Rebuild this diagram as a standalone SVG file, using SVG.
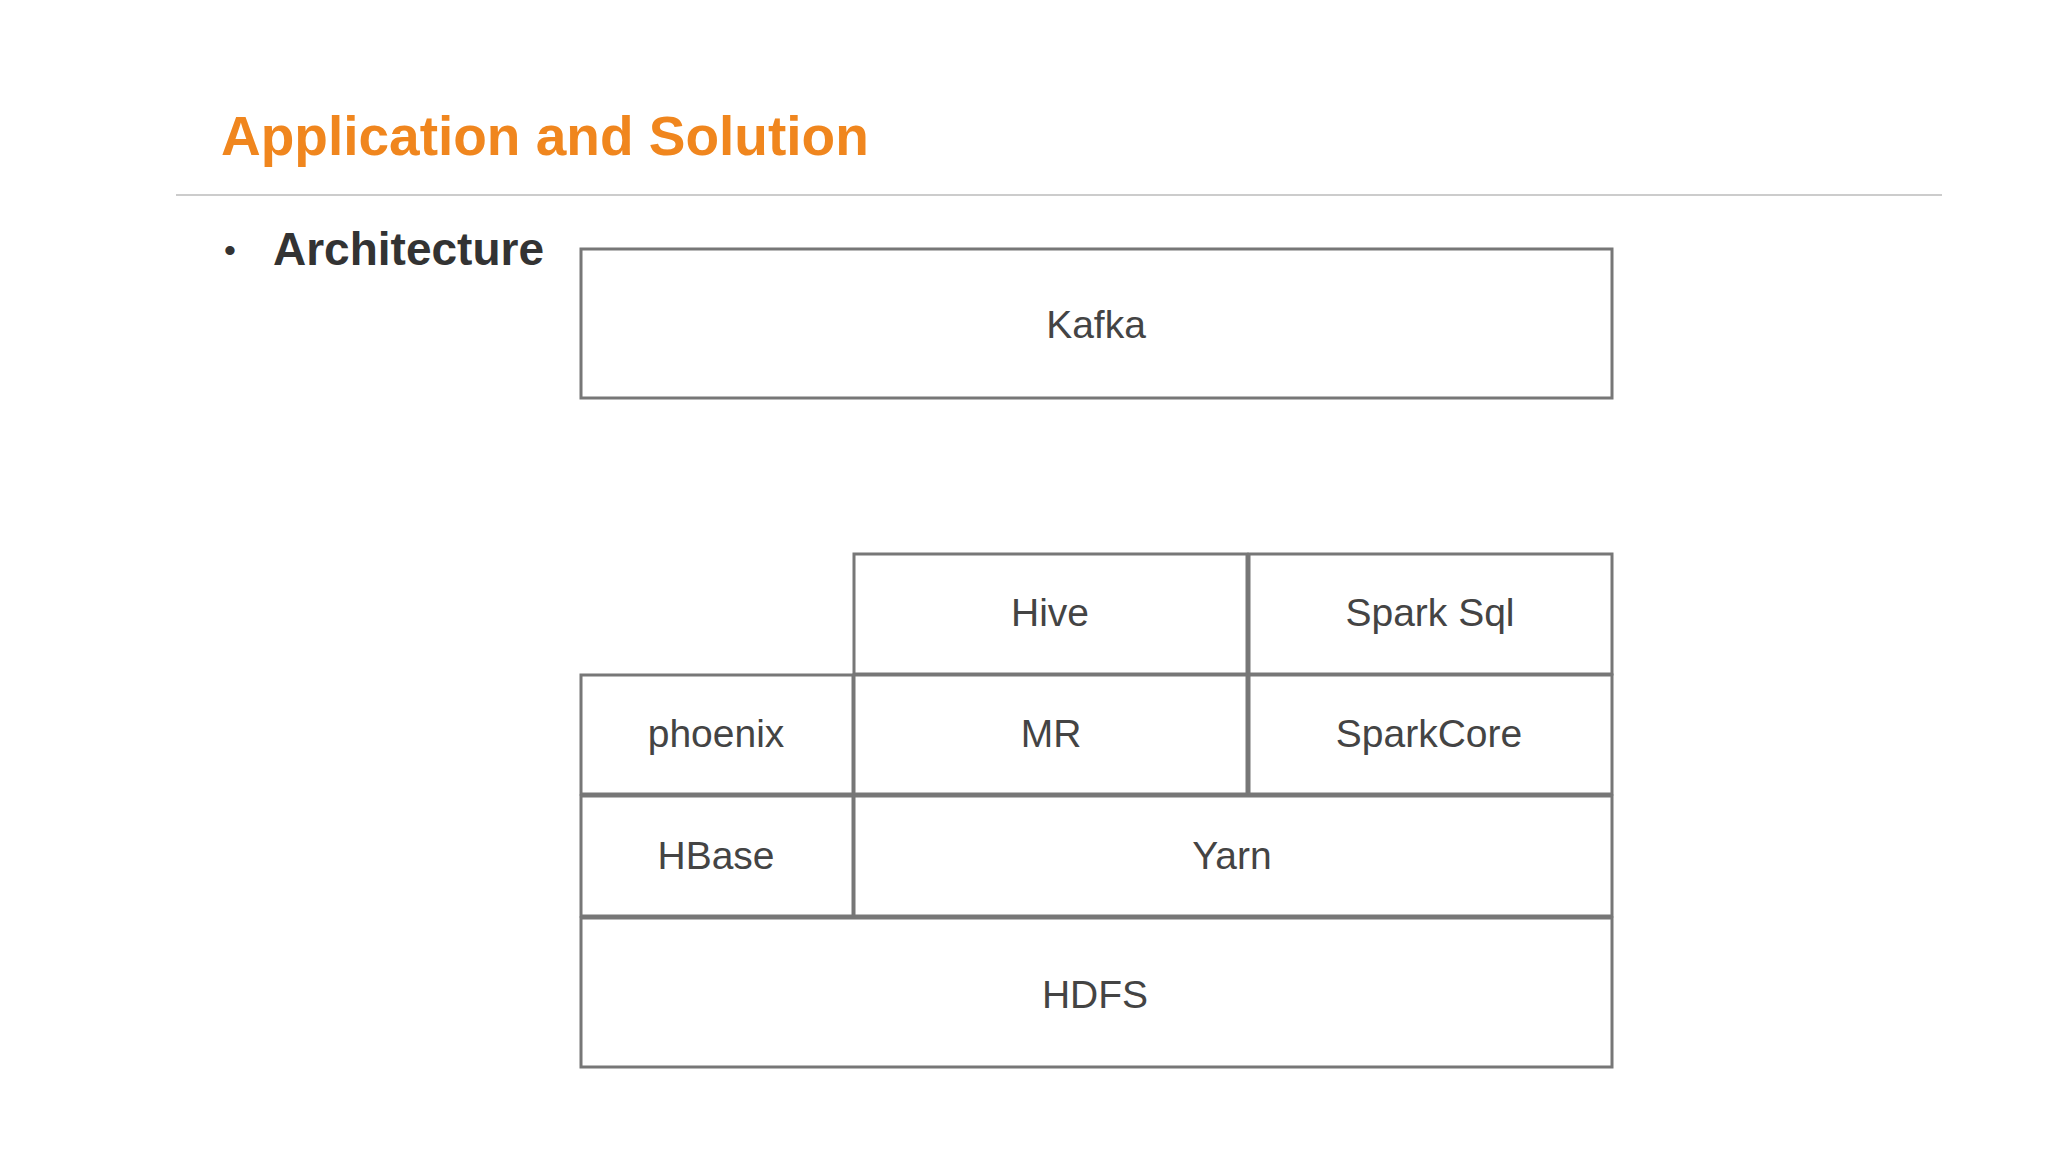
<svg xmlns="http://www.w3.org/2000/svg" width="2048" height="1152" viewBox="0 0 2048 1152">
<style>
.b{fill:#fff;stroke:#777;stroke-width:3}
.t{font-family:"Liberation Sans",Arial,sans-serif;font-size:39px;fill:#444;text-anchor:middle;dominant-baseline:central}
</style>
<rect width="2048" height="1152" fill="#fff"/>
<text x="221" y="155" font-family="Liberation Sans,Arial,sans-serif" font-weight="bold" font-size="55" fill="#f0861e">Application and Solution</text>
<line x1="176" y1="195" x2="1942" y2="195" stroke="#ccc" stroke-width="2"/>
<text x="224" y="262" font-family="Liberation Sans,Arial,sans-serif" font-size="34" fill="#333">•</text>
<text x="273" y="265" font-family="Liberation Sans,Arial,sans-serif" font-weight="bold" font-size="46" fill="#333">Architecture</text>
<g id="kafka"><rect class="b" x="581" y="249" width="1031" height="149"/><text class="t" x="1096" y="324">Kafka</text></g>
<g id="hive"><rect class="b" x="854" y="554" width="393" height="120"/><text class="t" x="1050" y="612">Hive</text></g>
<g id="sparksql"><rect class="b" x="1249" y="554" width="363" height="120"/><text class="t" x="1430" y="612">Spark Sql</text></g>
<g id="phoenix"><rect class="b" x="581" y="675" width="272" height="119"/><text class="t" x="716" y="733">phoenix</text></g>
<g id="mr"><rect class="b" x="854" y="675" width="393" height="119"/><text class="t" x="1051" y="733">MR</text></g>
<g id="sparkcore"><rect class="b" x="1249" y="675" width="363" height="119"/><text class="t" x="1429" y="733">SparkCore</text></g>
<g id="hbase"><rect class="b" x="581" y="796" width="272" height="120"/><text class="t" x="716" y="855">HBase</text></g>
<g id="yarn"><rect class="b" x="854" y="796" width="758" height="120"/><text class="t" x="1232" y="855">Yarn</text></g>
<g id="hdfs"><rect class="b" x="581" y="918" width="1031" height="149"/><text class="t" x="1095" y="994">HDFS</text></g>
<g id="connectors"/>
</svg>
